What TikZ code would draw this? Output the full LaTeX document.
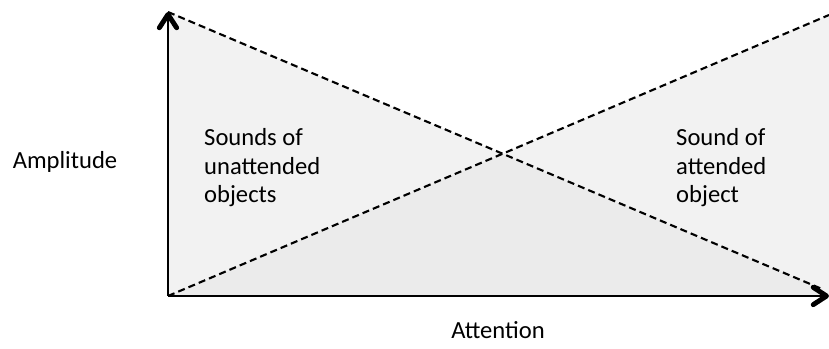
\documentclass[tikz,border=0pt]{standalone}
\usepackage{fontspec}
\setmainfont{Carlito}
\usetikzlibrary{arrows.meta,calc}
\tikzstyle{axis}=[line width=1.7pt, -{Straight Barb[length=0.4cm, width=0.52cm, line width=4.2pt, round]}]
\tikzstyle{guide}=[line width=1.8pt, dash pattern=on 6pt off 3.5pt]
\tikzstyle{zone}=[fill=black!5, draw=none]
\tikzstyle{both}=[fill=black!8, draw=none]
\tikzstyle{texto}=[align=left, inner sep=0pt, font=\fontsize{21}{24.6}\selectfont]

\begin{document}
\begin{tikzpicture}[x=0.03cm, y=0.03cm]
  \useasboundingbox (0,0) rectangle (829,349);
  % corners of the plot
  \coordinate (o) at (168,53);
  \coordinate (ytop) at (168,337);
  \coordinate (xend) at (829,53);
  \coordinate (dl) at (822,60);
  \coordinate (ur) at (829,334);
  \coordinate (cross) at (intersection of ytop--dl and o--ur);
  % shaded zones
  \path[zone] (ytop) -- (cross) -- (o) -- cycle;
  \path[zone] (ur) -- (xend) -- (dl) -- (cross) -- cycle;
  \path[both] (o) -- (cross) -- (dl) -- (xend) -- cycle;
  % dashed lines
  \draw[guide] (ytop) -- (dl);
  \draw[guide] (o) -- (ur);
  % axes
  \draw[axis] (o) -- (ytop);
  \draw[axis] (o) -- (xend);
  % labels
  \path (65,187) node (amp)[texto] {Amplitude};
  \path (498,19) node (att)[texto] {Attention};
  \path (204,221) node (unatt)[texto, anchor=north west] {Sounds of\\unattended\\objects};
  \path (676,221) node (atte)[texto, anchor=north west] {Sound of\\attended\\object};
\end{tikzpicture}
\end{document}
